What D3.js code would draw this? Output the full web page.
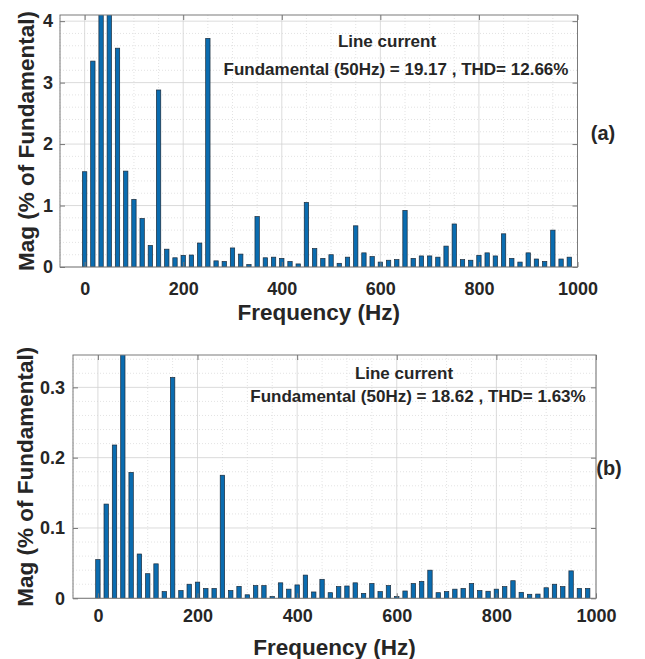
<!DOCTYPE html>
<html>
<head>
<meta charset="utf-8">
<script src="https://cdn.jsdelivr.net/npm/d3@7"></script>
<style>
  html, body { margin: 0; padding: 0; background: #ffffff; }
  svg { display: block; }
  text { font-family: "Liberation Sans", Arial, Helvetica, sans-serif; font-weight: bold; fill: #262626; }
</style>
</head>
<body>
<svg id="chart" width="645" height="659"></svg>
<script>
// FFT bins (Hz), resolution 50/3 Hz
const binFreqs = [
  0, 16.67, 33.33, 50, 66.67, 83.33, 100, 116.67, 133.33, 150,
  166.67, 183.33, 200, 216.67, 233.33, 250, 266.67, 283.33, 300, 316.67,
  333.33, 350, 366.67, 383.33, 400, 416.67, 433.33, 450, 466.67, 483.33,
  500, 516.67, 533.33, 550, 566.67, 583.33, 600, 616.67, 633.33, 650,
  666.67, 683.33, 700, 716.67, 733.33, 750, 766.67, 783.33, 800, 816.67,
  833.33, 850, 866.67, 883.33, 900, 916.67, 933.33, 950, 966.67, 983.33
];

// Panel (a): harmonic magnitude, % of fundamental (fundamental bin = 100)
const magA = [
  1.55, 3.35, 4.40, 100, 3.56, 1.56, 1.10, 0.79, 0.35, 2.88,
  0.29, 0.15, 0.19, 0.195, 0.39, 3.72, 0.10, 0.09, 0.31, 0.21,
  0.04, 0.82, 0.15, 0.16, 0.14, 0.09, 0.05, 1.05, 0.30, 0.14,
  0.20, 0.06, 0.16, 0.67, 0.23, 0.17, 0.08, 0.11, 0.12, 0.92,
  0.14, 0.18, 0.18, 0.16, 0.34, 0.70, 0.12, 0.11, 0.19, 0.23,
  0.18, 0.54, 0.14, 0.08, 0.23, 0.13, 0.09, 0.60, 0.13, 0.16
];

// Panel (b): harmonic magnitude, % of fundamental (fundamental bin = 100)
const magB = [
  0.055, 0.134, 0.218, 100, 0.179, 0.063, 0.035, 0.049, 0.0095, 0.314,
  0.011, 0.020, 0.023, 0.014, 0.014, 0.175, 0.011, 0.017, 0.005, 0.018,
  0.018, 0.0024, 0.022, 0.013, 0.019, 0.033, 0.009, 0.027, 0.008, 0.0166,
  0.0175, 0.022, 0.007, 0.021, 0.0095, 0.018, 0.0024, 0.0104, 0.021, 0.024,
  0.040, 0.008, 0.0095, 0.013, 0.014, 0.021, 0.011, 0.010, 0.013, 0.0166,
  0.025, 0.0085, 0.0057, 0.006, 0.015, 0.020, 0.0166, 0.039, 0.014, 0.014
];

const xTicks = [0, 200, 400, 600, 800, 1000];
const yTicksA = [0, 1, 2, 3, 4];
const yTicksB = [0, 0.1, 0.2, 0.3];

const titleText = "Line current";
const infoA = "Fundamental (50Hz) = 19.17 , THD= 12.66%";
const infoB = "Fundamental (50Hz) = 18.62 , THD= 1.63%";
const xLabel = "Frequency (Hz)";
const yLabel = "Mag (% of Fundamental)";

const svg = d3.select("#chart");
svg.append("rect").attr("width", 645).attr("height", 659).attr("fill", "#fff");

function drawPanel(p) {
  const x = d3.scaleLinear().domain([-50, 1000]).range([p.left, p.right]);
  const y = d3.scaleLinear().domain([0, p.yMax]).range([p.bottom, p.top]);
  const g = svg.append("g");

  const clipId = "clip-" + p.id;
  g.append("clipPath").attr("id", clipId)
    .append("rect").attr("x", p.left).attr("y", p.top)
    .attr("width", p.right - p.left).attr("height", p.bottom - p.top);

  // minor grid
  const xMinor = d3.range(-50, 1001, 50).filter(v => !xTicks.includes(v));
  const yMinor = d3.range(0, p.yMax + 1e-9, p.yMinorStep)
    .filter(v => !p.yTicks.some(t => Math.abs(t - v) < 1e-9));
  g.append("g").selectAll("line").data(xMinor).join("line")
    .attr("x1", d => x(d)).attr("x2", d => x(d))
    .attr("y1", p.top).attr("y2", p.bottom)
    .attr("stroke", "#dcdcdc").attr("stroke-width", 0.8).attr("stroke-dasharray", "1,2");
  g.append("g").selectAll("line").data(yMinor).join("line")
    .attr("x1", p.left).attr("x2", p.right)
    .attr("y1", d => y(d)).attr("y2", d => y(d))
    .attr("stroke", "#dcdcdc").attr("stroke-width", 0.8).attr("stroke-dasharray", "1,2");

  // major grid
  g.append("g").selectAll("line").data(xTicks).join("line")
    .attr("x1", d => x(d)).attr("x2", d => x(d))
    .attr("y1", p.top).attr("y2", p.bottom)
    .attr("stroke", "#d2d2d2").attr("stroke-width", 0.8);
  g.append("g").selectAll("line").data(p.yTicks).join("line")
    .attr("x1", p.left).attr("x2", p.right)
    .attr("y1", d => y(d)).attr("y2", d => y(d))
    .attr("stroke", "#d2d2d2").attr("stroke-width", 0.8);

  // bars
  const step = x(binFreqs[1]) - x(binFreqs[0]);
  const bw = step * 0.53;
  g.append("g").attr("clip-path", `url(#${clipId})`)
    .selectAll("rect").data(p.values).join("rect")
    .attr("x", (d, i) => x(binFreqs[i]) - bw / 2)
    .attr("y", d => y(d))
    .attr("width", bw)
    .attr("height", d => p.bottom - y(d))
    .attr("fill", "#0a6cb0")
    .attr("stroke", "#1c2b3a")
    .attr("stroke-width", 0.7);

  // axes with inward ticks (box on all four sides)
  const axisStyle = sel => {
    sel.select(".domain").remove();
    sel.selectAll(".tick line").attr("stroke", "#777");
    sel.selectAll("text").attr("font-size", 18).attr("fill", "#262626")
      .style("font-family", "'Liberation Sans', Arial, sans-serif").style("font-weight", "bold");
  };
  g.append("g").attr("transform", `translate(0,${p.bottom})`)
    .call(d3.axisBottom(x).tickValues(xTicks).tickFormat(d3.format("d"))
      .tickSizeInner(-5).tickSizeOuter(0).tickPadding(p.xPad))
    .call(axisStyle);
  g.append("g").attr("transform", `translate(0,${p.top})`)
    .call(d3.axisTop(x).tickValues(xTicks).tickFormat("").tickSizeInner(-5).tickSizeOuter(0))
    .call(axisStyle);
  g.append("g").attr("transform", `translate(${p.left},0)`)
    .call(d3.axisLeft(y).tickValues(p.yTicks).tickFormat(p.yFormat)
      .tickSizeInner(-5).tickSizeOuter(0).tickPadding(p.yPad))
    .call(axisStyle);
  g.append("g").attr("transform", `translate(${p.right},0)`)
    .call(d3.axisRight(y).tickValues(p.yTicks).tickFormat("").tickSizeInner(-5).tickSizeOuter(0))
    .call(axisStyle);

  // axes box
  g.append("rect").attr("x", p.left).attr("y", p.top)
    .attr("width", p.right - p.left).attr("height", p.bottom - p.top)
    .attr("fill", "none").attr("stroke", "#7a7a7a").attr("stroke-width", 1);

  // labels
  g.append("text").attr("x", (p.left + p.right) / 2).attr("y", p.xLabelY)
    .attr("text-anchor", "middle").attr("font-size", 22.5).text(xLabel);
  g.append("text")
    .attr("transform", `translate(${p.yLabelX},${(p.top + p.bottom) / 2}) rotate(-90)`)
    .attr("text-anchor", "middle").attr("font-size", 22.5).text(yLabel);

  // annotations
  g.append("text").attr("x", p.titleX).attr("y", p.titleY)
    .attr("text-anchor", "middle").attr("font-size", 17).text(titleText);
  g.append("text").attr("x", p.infoX).attr("y", p.infoY)
    .attr("text-anchor", "middle").attr("font-size", 17).text(p.info);
  g.append("text").attr("x", p.tagX).attr("y", p.tagY)
    .attr("text-anchor", "middle").attr("font-size", 20).text(p.tag);
}

drawPanel({
  id: "a", values: magA, yMax: 4.1, yTicks: yTicksA, yMinorStep: 0.2, yFormat: d3.format("d"),
  left: 60, right: 577.5, top: 15, bottom: 267,
  xPad: 15, yPad: 7, xLabelY: 320, yLabelX: 34,
  titleX: 387, titleY: 47, info: infoA, infoX: 396, infoY: 75,
  tag: "(a)", tagX: 603, tagY: 140
});

drawPanel({
  id: "b", values: magB, yMax: 0.346, yTicks: yTicksB, yMinorStep: 0.02, yFormat: d => d === 0 ? "0" : d3.format(".1f")(d),
  left: 73, right: 596, top: 355, bottom: 598.3,
  xPad: 11, yPad: 8, xLabelY: 655, yLabelX: 33,
  titleX: 404, titleY: 379, info: infoB, infoX: 418, infoY: 402,
  tag: "(b)", tagX: 609, tagY: 475
});
</script>
</body>
</html>
